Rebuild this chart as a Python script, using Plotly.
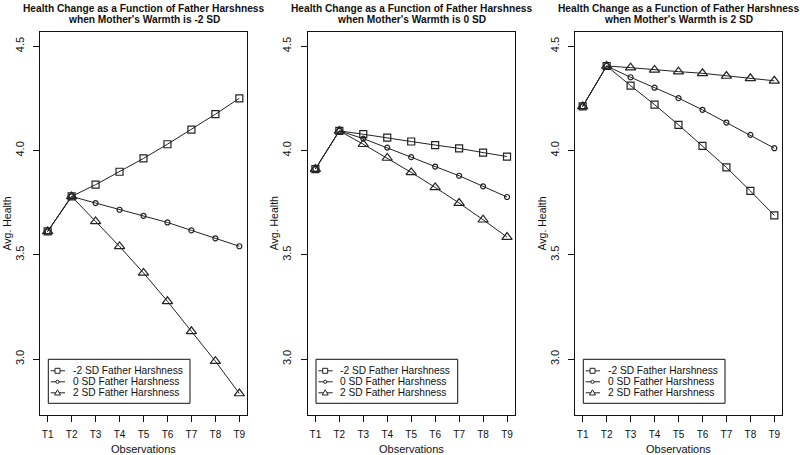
import plotly.graph_objects as go

W, H = 800, 455

observations = ["T1", "T2", "T3", "T4", "T5", "T6", "T7", "T8", "T9"]
y_ticks = [3.0, 3.5, 4.0, 4.5]
y_tick_labels = ["3.0", "3.5", "4.0", "4.5"]
series_names = ["-2 SD Father Harshness", "0 SD Father Harshness", "2 SD Father Harshness"]
title_line1 = "Health Change as a Function of Father Harshness"
panel_titles = ["when Mother's Warmth is -2 SD",
                "when Mother's Warmth is 0 SD",
                "when Mother's Warmth is 2 SD"]

# Mother's warmth -2 SD
mw_m2_fh_m2 = [3.612, 3.780, 3.836, 3.898, 3.962, 4.030, 4.100, 4.174, 4.250]
mw_m2_fh_0 = [3.612, 3.780, 3.748, 3.716, 3.687, 3.655, 3.617, 3.579, 3.541]
mw_m2_fh_p2 = [3.612, 3.780, 3.660, 3.540, 3.413, 3.277, 3.133, 2.990, 2.835]
# Mother's warmth 0 SD
mw_0_fh_m2 = [3.911, 4.094, 4.078, 4.062, 4.043, 4.026, 4.010, 3.990, 3.971]
mw_0_fh_0 = [3.911, 4.094, 4.057, 4.014, 3.968, 3.923, 3.879, 3.828, 3.777]
mw_0_fh_p2 = [3.911, 4.094, 4.030, 3.964, 3.895, 3.823, 3.748, 3.668, 3.585]
# Mother's warmth 2 SD
mw_p2_fh_m2 = [4.211, 4.405, 4.311, 4.220, 4.123, 4.022, 3.919, 3.806, 3.689]
mw_p2_fh_0 = [4.211, 4.405, 4.351, 4.301, 4.251, 4.195, 4.134, 4.075, 4.011]
mw_p2_fh_p2 = [4.211, 4.405, 4.397, 4.386, 4.378, 4.370, 4.357, 4.346, 4.334]

panels = [
    [mw_m2_fh_m2, mw_m2_fh_0, mw_m2_fh_p2],
    [mw_0_fh_m2, mw_0_fh_0, mw_0_fh_p2],
    [mw_p2_fh_m2, mw_p2_fh_0, mw_p2_fh_p2],
]

FONT = "Liberation Sans, Arial, sans-serif"
INK = "#111111"
LINE = "#222222"
symbols = ["square-open", "circle-open", "triangle-up-open"]
sizes = [7, 5, 9]

panel_left = [40.0, 307.7, 575.0]
panel_w = 207.0
top, bottom = 32.0, 415.0

def px(x):
    return x / W

def py(y):
    return 1 - y / H

fig = go.Figure()
shapes = []
annotations = []

for i, series in enumerate(panels):
    xa = "x" if i == 0 else f"x{i+1}"
    ya = "y" if i == 0 else f"y{i+1}"
    for k, vals in enumerate(series):
        fig.add_trace(go.Scatter(
            x=observations, y=vals, mode="lines+markers",
            name=series_names[k], showlegend=False,
            xaxis=xa, yaxis=ya,
            line=dict(color=LINE, width=1),
            marker=dict(symbol=symbols[k], size=sizes[k],
                        color=LINE, line=dict(width=1.2, color=LINE)),
        ))
    L = panel_left[i]
    dom_x = [px(L), px(L + panel_w)]
    dom_y = [py(bottom), py(top)]
    xkey = "xaxis" if i == 0 else f"xaxis{i+1}"
    ykey = "yaxis" if i == 0 else f"yaxis{i+1}"
    fig.update_layout(**{
        xkey: dict(domain=dom_x, anchor=ya, range=[-0.32, 8.32],
                   type="category", showline=True, mirror=True,
                   linecolor=INK, linewidth=1, ticks="outside", ticklen=6,
                   tickcolor=INK, showgrid=False, zeroline=False,
                   tickfont=dict(family=FONT, size=10, color=INK),
                   ticklabelstandoff=4),
        ykey: dict(domain=dom_y, anchor=xa, range=[2.732, 4.568],
                   tickvals=y_ticks, ticktext=y_tick_labels, tickangle=-90,
                   showline=True, mirror=True, linecolor=INK, linewidth=1,
                   ticks="outside", ticklen=6, tickcolor=INK,
                   showgrid=False, zeroline=False,
                   tickfont=dict(family=FONT, size=11, color=INK),
                   ticklabelstandoff=5),
    })
    cx = L + panel_w / 2
    # titles
    annotations.append(dict(x=px(cx), y=py(8.0), xref="paper", yref="paper",
                            text=f"<b>{title_line1}</b>",
                            showarrow=False, xanchor="center", yanchor="middle",
                            font=dict(family=FONT, size=10.2, color=INK)))
    annotations.append(dict(x=px(cx), y=py(19.8), xref="paper", yref="paper",
                            text=f"<b>{panel_titles[i]}</b>",
                            showarrow=False, xanchor="center", yanchor="middle",
                            font=dict(family=FONT, size=10.2, color=INK)))
    # axis titles
    annotations.append(dict(x=px(cx), y=py(449), xref="paper", yref="paper",
                            text="Observations", showarrow=False,
                            xanchor="center", yanchor="middle",
                            font=dict(family=FONT, size=11, color=INK)))
    annotations.append(dict(x=px(L - 34), y=py((top + bottom) / 2),
                            xref="paper", yref="paper", text="Avg. Health",
                            showarrow=False, textangle=-90,
                            xanchor="center", yanchor="middle",
                            font=dict(family=FONT, size=10.5, color=INK)))
    # legend box
    lx0, lx1 = L + 8.3, L + 150.0
    ly0, ly1 = 359.3, 403.3
    shapes.append(dict(type="rect", xref="paper", yref="paper",
                       x0=px(lx0), x1=px(lx1), y0=py(ly1), y1=py(ly0),
                       line=dict(color=INK, width=1), fillcolor="rgba(0,0,0,0)"))
    entry_y = [370.8, 381.8, 392.8]
    for k in range(3):
        ey = entry_y[k]
        sx = L + 17.5
        shapes.append(dict(type="line", xref="paper", yref="paper",
                           x0=px(L + 10.7), x1=px(L + 25.0), y0=py(ey), y1=py(ey),
                           line=dict(color=LINE, width=1)))
        if k == 0:
            shapes.append(dict(type="rect", xref="paper", yref="paper",
                               x0=px(sx - 2.5), x1=px(sx + 2.5),
                               y0=py(ey + 2.5), y1=py(ey - 2.5),
                               line=dict(color=LINE, width=1), fillcolor="white"))
        elif k == 1:
            shapes.append(dict(type="circle", xref="paper", yref="paper",
                               x0=px(sx - 1.6), x1=px(sx + 1.6),
                               y0=py(ey + 1.6), y1=py(ey - 1.6),
                               line=dict(color=LINE, width=1), fillcolor="white"))
        else:
            path = (f"M {px(sx - 3)} {py(ey + 2.2)} L {px(sx + 3)} {py(ey + 2.2)} "
                    f"L {px(sx)} {py(ey - 3.0)} Z")
            shapes.append(dict(type="path", xref="paper", yref="paper", path=path,
                               line=dict(color=LINE, width=1), fillcolor="white"))
        annotations.append(dict(x=px(L + 30.5), y=py(ey), xref="paper", yref="paper",
                                text=series_names[k], showarrow=False,
                                xanchor="left", yanchor="middle",
                                font=dict(family=FONT, size=10.2, color=INK)))

fig.update_layout(
    width=W, height=H, autosize=False,
    margin=dict(l=0, r=0, t=0, b=0),
    paper_bgcolor="white", plot_bgcolor="white",
    shapes=shapes, annotations=annotations,
    showlegend=False,
)

fig.write_html(
    "out.html",
    config={"displayModeBar": False},
    post_script="document.body.style.margin='0';document.body.style.overflow='hidden';",
)
